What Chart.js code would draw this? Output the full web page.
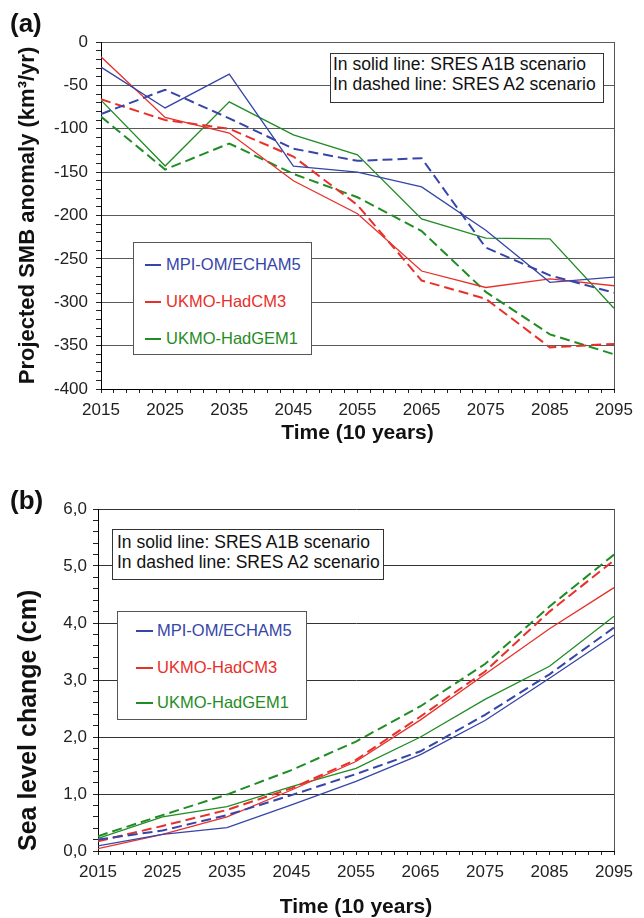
<!DOCTYPE html>
<html>
<head>
<meta charset="utf-8">
<script src="https://cdn.jsdelivr.net/npm/chart.js@4.4.1/dist/chart.umd.min.js"></script>
<style>
  body { margin: 0; background: #fff; font-family: 'Liberation Sans', Arial, sans-serif; }
  #wrap { position: relative; width: 644px; height: 918px; overflow: hidden; }
  canvas { position: absolute; left: 0; }
  .panel { position: absolute; left: 10px; font-weight: bold; font-size: 26px; line-height: 26px; color: #111; }
  .info { position: absolute; box-sizing: border-box; border: 1.5px solid #333; background: #fff;
          font-size: 17.5px; line-height: 20px; color: #111; white-space: nowrap; }
  .legend { position: absolute; box-sizing: border-box; border: 1.5px solid #555; background: #fff; }
  .legend .row { position: absolute; font-size: 16.5px; line-height: 20px; white-space: nowrap; }
  .legend .mark { position: absolute; height: 1.5px; }
</style>
</head>
<body>
<div id="wrap">
  <canvas id="smbChart" width="644" height="460" style="top:0"></canvas>
  <canvas id="seaChart" width="644" height="458" style="top:460px"></canvas>

  <div class="panel" style="top:10px">(a)</div>
  <div class="panel" style="top:487px">(b)</div>

  <div class="info" id="infoA" style="left:330px; top:53px; width:274px; height:50px; padding:0 0 0 2px"></div>
  <div class="info" id="infoB" style="left:112px; top:529px; width:272px; height:51px; padding:2px 0 0 4px"></div>

  <div class="legend" id="legendA" style="left:133px; top:242px; width:179px; height:113px"></div>
  <div class="legend" id="legendB" style="left:117px; top:611px; width:190px; height:109px"></div>
</div>

<script>
// Eixo do tempo e modelos
const years = [2015, 2025, 2035, 2045, 2055, 2065, 2075, 2085, 2095];
const models = ['MPI-OM/ECHAM5', 'UKMO-HadCM3', 'UKMO-HadGEM1'];
const modelColors = ['#3545a8', '#e8302b', '#1f8c24'];
const scenarioText = ['In solid line: SRES A1B scenario', 'In dashed line: SRES A2 scenario'];

// (a) SMB anomaly (km3/yr)
const smbMpiA1B = [-29, -76, -37, -143, -150, -167, -217, -277, -271];
const smbMpiA2 = [-83, -55, -88, -123, -137, -134, -237, -269, -289];
const smbHadcm3A1B = [-17, -87, -105, -160, -198, -264, -283, -273, -281];
const smbHadcm3A2 = [-66, -90, -100, -132, -188, -275, -296, -352, -348];
const smbHadgemA1B = [-67, -143, -69, -107, -130, -204, -226, -227, -307];
const smbHadgemA2 = [-86, -147, -117, -152, -179, -218, -288, -337, -360];

// (b) sea level change (cm)
const seaMpiA1B = [0.09, 0.29, 0.41, 0.81, 1.22, 1.69, 2.29, 3.03, 3.79];
const seaMpiA2 = [0.20, 0.36, 0.63, 0.98, 1.35, 1.75, 2.39, 3.10, 3.92];
const seaHadcm3A1B = [0.04, 0.29, 0.60, 1.07, 1.57, 2.30, 3.10, 3.90, 4.62];
const seaHadcm3A2 = [0.17, 0.44, 0.72, 1.10, 1.60, 2.36, 3.15, 4.20, 5.10];
const seaHadgemA1B = [0.22, 0.60, 0.78, 1.13, 1.45, 2.00, 2.66, 3.24, 4.12];
const seaHadgemA2 = [0.26, 0.63, 0.99, 1.42, 1.92, 2.54, 3.28, 4.29, 5.20];

const tickFont = { family: "'Liberation Sans', Arial, sans-serif", size: 17 };
const titleFont = size => ({ family: "'Liberation Sans', Arial, sans-serif", size: size, weight: 'bold', lineHeight: 1 });

// monta os pontos com x = anos desde 2015
function toPoints(values) {
    return years.map((yr, i) => ({ x: yr - years[0], y: values[i] }));
}

function makeDatasets(a1b, a2) {
    const sets = [];
    models.forEach((name, i) => {
        sets.push({ label: name + ' A1B', data: toPoints(a1b[i]), borderColor: modelColors[i], borderWidth: 1.3 });
        sets.push({ label: name + ' A2', data: toPoints(a2[i]), borderColor: modelColors[i], borderWidth: 2, borderDash: [10, 5] });
    });
    sets.forEach(s => { s.pointRadius = 0; s.tension = 0; s.fill = false; });
    return sets;
}

// borda direita do quadro
const frameRight = {
    id: 'frameRight',
    afterDraw(chart) {
        const { ctx, chartArea: a } = chart;
        ctx.save();
        ctx.strokeStyle = '#555';
        ctx.lineWidth = 1;
        ctx.beginPath();
        ctx.moveTo(Math.round(a.right) + 0.5, a.top);
        ctx.lineTo(Math.round(a.right) + 0.5, a.bottom);
        ctx.stroke();
        ctx.restore();
    }
};

function xScale(height, titlePadBottom) {
    return {
        type: 'linear',
        min: 0,
        max: years[years.length - 1] - years[0],
        afterFit: s => { s.height = height; s.paddingLeft = 0; s.paddingRight = 0; },
        ticks: {
            stepSize: 2, autoSkip: false, maxRotation: 0, padding: 7,
            color: '#222', font: tickFont,
            callback: v => (v % 10 === 0 ? String(v + years[0]) : '')
        },
        grid: { drawOnChartArea: false, tickLength: 4, tickColor: '#222' },
        border: { color: '#000' },
        title: {
            display: true, text: 'Time (10 years)', color: '#111', font: titleFont(21),
            padding: { top: 0, bottom: titlePadBottom }
        }
    };
}

function yScale(opts) {
    return {
        min: opts.min,
        max: opts.max,
        afterFit: s => { s.width = opts.width; s.paddingTop = 0; s.paddingBottom = 0; },
        ticks: {
            stepSize: opts.step, autoSkip: false, padding: opts.pad,
            color: '#222', font: tickFont,
            callback: v => (opts.isMajor(v) ? opts.format(v) : '')
        },
        grid: {
            color: c => (c.tick && opts.isMajor(c.tick.value) ? opts.gridColor : 'rgba(0,0,0,0)'),
            tickColor: '#222',
            tickLength: 5
        },
        border: { color: '#000' },
        title: {
            display: true, text: opts.title, color: '#111', font: titleFont(opts.titleSize),
            align: opts.titleAlign, padding: { top: opts.titlePad, bottom: 0 }
        }
    };
}

function baseOptions(padTop, scales) {
    return {
        responsive: false,
        animation: false,
        devicePixelRatio: 1,
        layout: { padding: { top: padTop, right: 30, left: 0, bottom: 0 } },
        plugins: { legend: { display: false }, tooltip: { enabled: false } },
        scales: scales
    };
}

new Chart(document.getElementById('smbChart'), {
    type: 'line',
    data: {
        datasets: makeDatasets(
            [smbMpiA1B, smbHadcm3A1B, smbHadgemA1B],
            [smbMpiA2, smbHadcm3A2, smbHadgemA2])
    },
    options: baseOptions(42, {
        x: xScale(71, 16.5),
        y: yScale({
            min: -400, max: 0, step: 10, width: 101, pad: 8, gridColor: '#5a5a5a',
            isMajor: v => v % 50 === 0,
            format: v => String(v),
            title: 'Projected SMB anomaly (km³/yr)', titleSize: 22, titlePad: 17, titleAlign: 'center'
        })
    }),
    plugins: [frameRight]
});

new Chart(document.getElementById('seaChart'), {
    type: 'line',
    data: {
        datasets: makeDatasets(
            [seaMpiA1B, seaHadcm3A1B, seaHadgemA1B],
            [seaMpiA2, seaHadcm3A2, seaHadgemA2])
    },
    options: baseOptions(49, {
        x: xScale(67, 0.5),
        y: yScale({
            min: 0, max: 6, step: 0.2, width: 98, pad: 6, gridColor: '#333',
            isMajor: v => Math.abs(v - Math.round(v)) < 1e-6,
            format: v => v.toFixed(1).replace('.', ','),
            title: 'Sea level change (cm)', titleSize: 25, titlePad: 17, titleAlign: 'start'
        })
    }),
    plugins: [frameRight]
});

// caixas de texto e legendas
['infoA', 'infoB'].forEach(id => {
    document.getElementById(id).innerHTML = scenarioText.map(t => '<div>' + t + '</div>').join('');
});

function buildLegend(id, rowsY, markX, markW, textX) {
    const box = document.getElementById(id);
    models.forEach((name, i) => {
        const mark = document.createElement('div');
        mark.className = 'mark';
        mark.style.cssText = `left:${markX}px; top:${rowsY[i]}px; width:${markW}px; background:${modelColors[i]}`;
        const row = document.createElement('div');
        row.className = 'row';
        row.style.cssText = `left:${textX}px; top:${rowsY[i] - 10}px; color:${modelColors[i]}`;
        row.textContent = name;
        box.appendChild(mark);
        box.appendChild(row);
    });
}
buildLegend('legendA', [21, 58, 95], 11, 16, 32);
buildLegend('legendB', [18, 55, 90], 18, 17, 39);
</script>
</body>
</html>
